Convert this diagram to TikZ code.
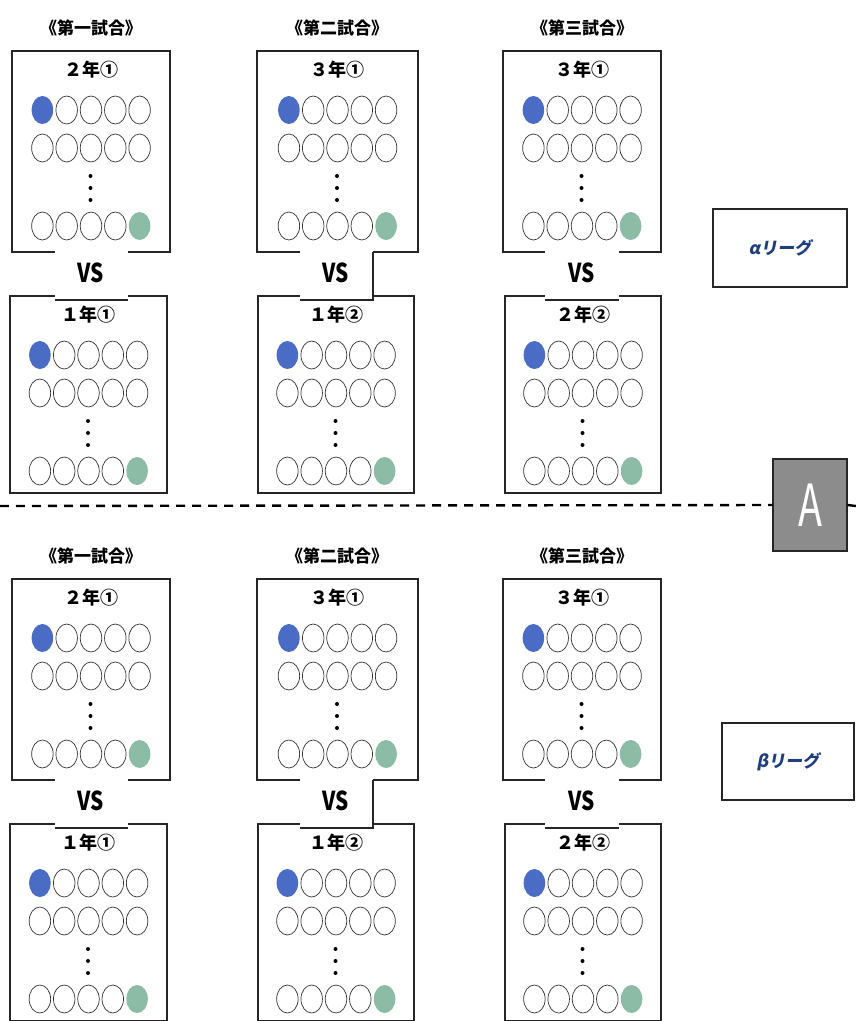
\documentclass[tikz,border=0pt]{standalone}
\usepackage{fontspec}
\usepackage{graphicx}
\usetikzlibrary{shapes.geometric}
\newfontfamily\jp{Noto Sans CJK JP}
\newfontfamily\jpsl{Noto Sans CJK JP}[FakeSlant=0.18]
\definecolor{dotblue}{HTML}{4A6CC4}
\definecolor{dotgreen}{HTML}{8DBCA6}
\definecolor{leaguec}{HTML}{1F3E7C}
\definecolor{boxgray}{HTML}{8C8C8C}
\tikzset{
  frame/.style={draw=black!85, line width=1.4pt},
  ball/.style={ellipse, line width=0.7pt, minimum width=21.5pt, minimum height=28pt, inner sep=0pt},
  ellip/.style={circle, fill=black, minimum size=4pt, inner sep=0pt},
  teamlabel/.style={font=\jp\bfseries\fontsize{18}{18}\selectfont, inner sep=0pt},
  gamelabel/.style={font=\jp\bfseries\fontsize{17}{17}\selectfont, inner sep=0pt},
  vslabel/.style={font=\jp\bfseries\fontsize{26}{26}\selectfont, inner sep=0pt},
  vscover/.style={fill=white},
  vsedge/.style={draw=black!85, line width=1.2pt},
  league/.style={draw=black!85, line width=1.4pt, fill=white, inner sep=0pt, font=\jpsl\bfseries\fontsize{17}{17}\selectfont, text=leaguec},
  abox/.style={draw=black!85, line width=1.2pt, fill=boxgray, inner sep=0pt, text=white, font=\jp\fontsize{58}{58}\selectfont},
  divider/.style={draw=black, line width=2.4pt, dash pattern=on 9pt off 7pt}
}
% #1 name, #2 left, #3 right, #4 top, #5 bottom, #6 label
\newcommand\teamgrid[6]{%
  \draw[frame] (#2,#4) rectangle (#3,#5);
  \pgfmathsetmacro\cx{(#2+#3)/2}
  \node[teamlabel] (#1-lab) at (\cx,#4+19) {#6};
  \foreach \i/\fa/\da/\fd/\dd in {1/dotblue/none/white/black!80,2/white/black!80/white/black!80,3/white/black!80/white/black!80,4/white/black!80/white/black!80,5/white/black!80/dotgreen/none}{
    \pgfmathsetmacro\bx{\cx+(\i-3)*24.3}
    \node[ball, fill=\fa, draw=\da] (#1-a\i) at (\bx,#4+59) {};
    \node[ball, fill=white, draw=black!80] (#1-b\i) at (\bx,#4+97) {};
    \node[ball, fill=\fd, draw=\dd] (#1-d\i) at (\bx,#4+175) {};
  }
  \foreach \j in {0,1,2}{
    \node[ellip] (#1-e\j) at (\cx-0.5,#4+125+12*\j) {};
  }
}
\newcommand\sect[1]{% #1 vertical offset
  \node[gamelabel] (t1-#1) at (91,28+#1) {\hbox to 7pt{\hss《}第一試合\hbox to 7pt{》\hss}};
  \node[gamelabel] (t2-#1) at (337,28+#1) {\hbox to 7pt{\hss《}第二試合\hbox to 7pt{》\hss}};
  \node[gamelabel] (t3-#1) at (582,28+#1) {\hbox to 7pt{\hss《}第三試合\hbox to 7pt{》\hss}};
  \teamgrid{u1-#1}{12}{170}{51+#1}{252+#1}{２年①}
  \teamgrid{l1-#1}{10}{167}{296+#1}{493+#1}{１年①}
  \teamgrid{u2-#1}{257}{418}{51+#1}{252+#1}{３年①}
  \teamgrid{l2-#1}{258}{414}{296+#1}{493+#1}{１年②}
  \teamgrid{u3-#1}{503}{661}{51+#1}{252+#1}{３年①}
  \teamgrid{l3-#1}{505}{661}{296+#1}{493+#1}{２年②}
  % VS covers
  \fill[vscover] (55,245+#1) rectangle (128,300+#1);
  \draw[vsedge] (55,300+#1) -- (128,300+#1);
  \fill[vscover] (300,245+#1) rectangle (373,300+#1);
  \draw[vsedge] (373,252+#1) -- (373,300+#1) -- (300,300+#1);
  \fill[vscover] (545,245+#1) rectangle (619,300+#1);
  \draw[vsedge] (545,300+#1) -- (619,300+#1);
  \node[vslabel] (vs1-#1) at (91,273+#1) {\scalebox{0.8}[1]{VS}};
  \node[vslabel] (vs2-#1) at (336,273+#1) {\scalebox{0.8}[1]{VS}};
  \node[vslabel] (vs3-#1) at (582,273+#1) {\scalebox{0.8}[1]{VS}};
}
\begin{document}
\begin{tikzpicture}[x=1pt,y=-1pt]
\useasboundingbox (0,0) rectangle (855,1021);
\fill[white] (0,0) rectangle (855,1021);
\sect{0}
\sect{528}
\node[league, minimum width=134pt, minimum height=78pt] (alpha) at (780,248) {αリーグ};
\node[league, minimum width=132pt, minimum height=77pt] (beta) at (788,761.5) {βリーグ};
\node[abox, minimum width=74pt, minimum height=92pt] (A) at (810,505) {\scalebox{0.68}[1]{A}};
\coordinate (dl) at (0,506);
\coordinate (dr) at (856,506);
\draw[divider] (dl) -- (A.west);
\draw[divider] (A.east) -- (dr);
\end{tikzpicture}
\end{document}
